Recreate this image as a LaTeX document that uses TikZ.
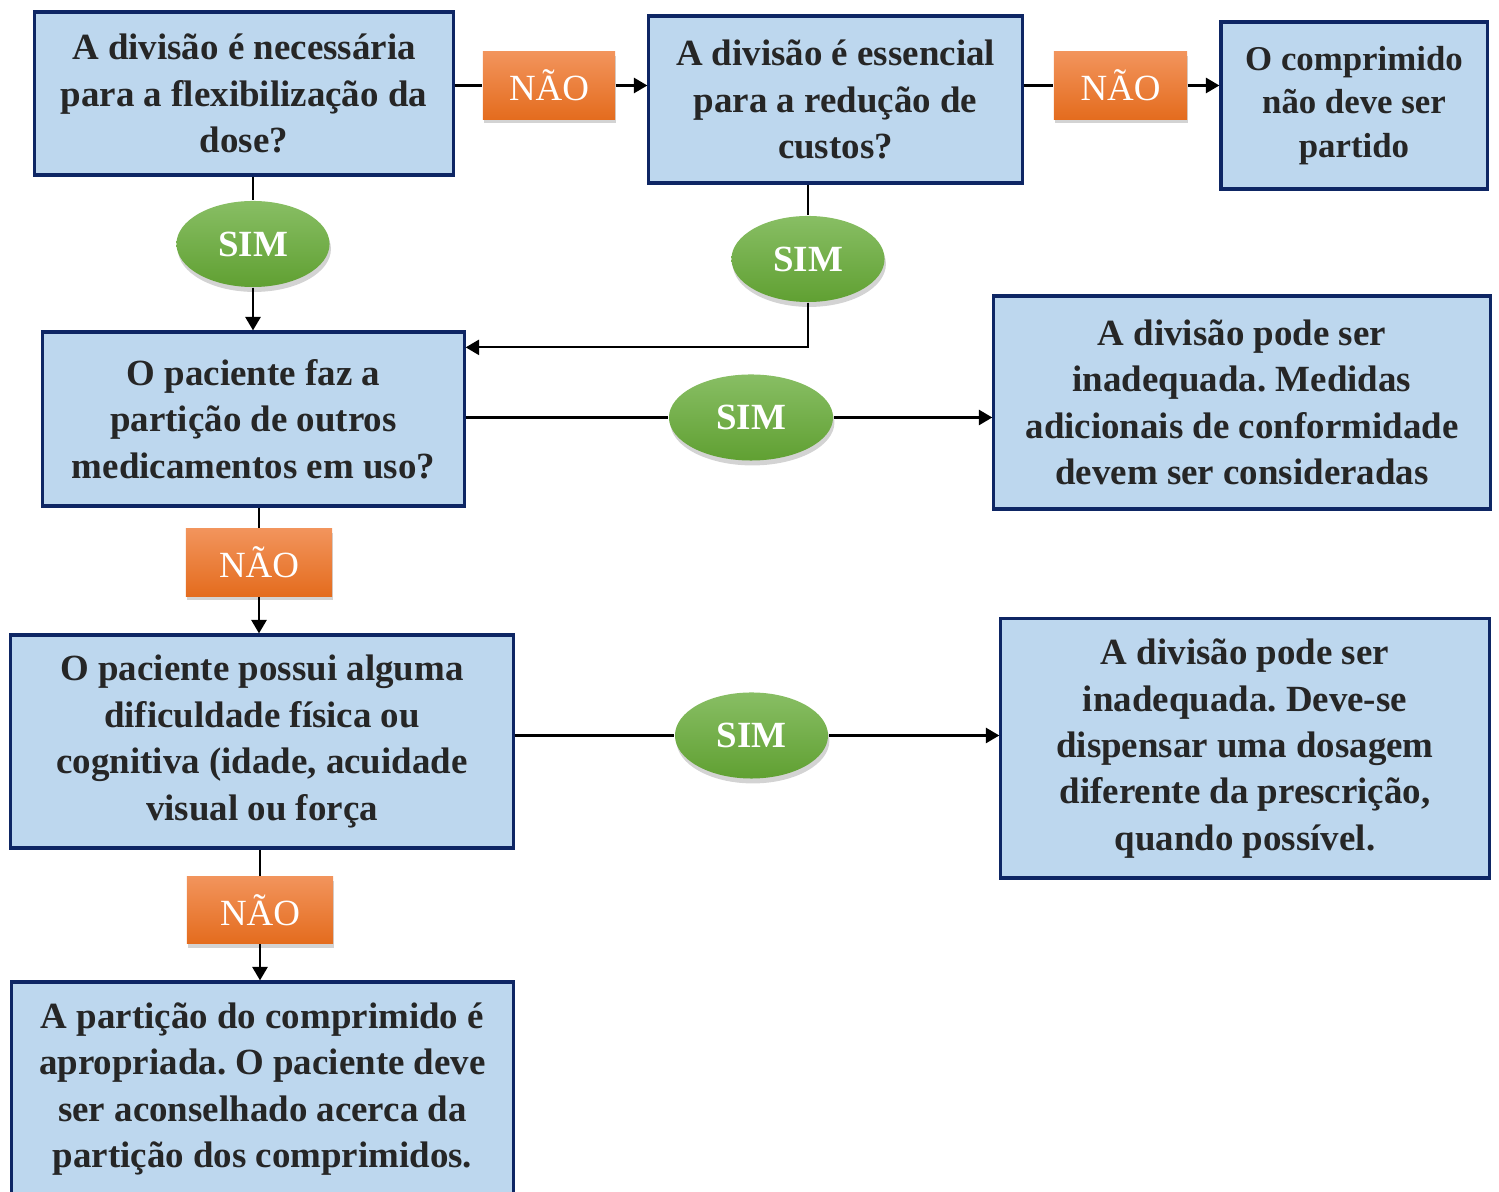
\documentclass[tikz,border=0pt]{standalone}
\usepackage{fontspec}
\setmainfont{Liberation Serif}
\usepackage{xcolor}
\usetikzlibrary{arrows.meta,shapes,shadows,calc}
\definecolor{caixa}{RGB}{189,215,238}
\definecolor{borda}{RGB}{14,38,100}
\definecolor{naotopo}{RGB}{242,148,92}
\definecolor{naobase}{RGB}{228,108,30}
\definecolor{simtopo}{RGB}{136,190,100}
\definecolor{simbase}{RGB}{96,160,50}
\definecolor{texto}{RGB}{38,38,38}
\newcommand{\fonte}{\fontsize{10.5}{13.2}\selectfont}
\frenchspacing

\begin{document}
\begin{tikzpicture}[x=0.01cm,y=-0.01cm,
	pergunta/.style={draw=borda,line width=0.9pt,fill=caixa,align=center,text=texto,font=\bfseries\fonte,inner sep=0pt},
	nao/.style={rectangle,top color=naotopo,bottom color=naobase,text=white,font=\fonte,inner sep=0pt,
		minimum height=0.67cm,drop shadow={shadow xshift=0.4pt,shadow yshift=-1.2pt,opacity=0.35}},
	sim/.style={ellipse,top color=simtopo,bottom color=simbase,text=white,font=\bfseries\fonte,inner sep=0pt,
		minimum width=1.53cm,minimum height=0.86cm,drop shadow={shadow xshift=0.4pt,shadow yshift=-1.4pt,opacity=0.35}},
	linha/.style={line width=0.6pt},
	seta/.style={linha,-{Triangle[length=3.8pt,width=4.3pt]}}]
	\useasboundingbox (0,0) rectangle (1499,1192);
	% caixas
	\node[pergunta,minimum width=4.18cm,minimum height=1.63cm] (flex) at (244,93.5) {A divisão é necessária\\para a flexibilização da\\dose?};
	\node[pergunta,minimum width=3.73cm,minimum height=1.67cm] (custo) at (835.5,99.5) {A divisão é essencial\\para a redução de\\custos?};
	\node[pergunta,minimum width=2.66cm,minimum height=1.67cm,font=\bfseries\fontsize{9.9}{12.3}\selectfont] (naopartir) at (1354,105.5) {O comprimido\\não deve ser\\partido};
	\node[pergunta,minimum width=4.21cm,minimum height=1.74cm] (outros) at (253.5,419) {O paciente faz a\\partição de outros\\medicamentos em uso?};
	\node[pergunta,minimum width=4.96cm,minimum height=2.13cm] (conform) at (1242,402.5) {A divisão pode ser\\inadequada. Medidas\\adicionais de conformidade\\devem ser consideradas};
	\node[pergunta,minimum width=5.02cm,minimum height=2.13cm] (dific) at (262,741.5) {O paciente possui alguma\\dificuldade física ou\\cognitiva (idade, acuidade\\visual ou força};
	\node[pergunta,minimum width=4.88cm,minimum height=2.59cm] (dosagem) at (1245,748.5) {A divisão pode ser\\inadequada. Deve-se\\dispensar uma dosagem\\diferente da prescrição,\\quando possível.};
	\node[pergunta,minimum width=5.01cm,minimum height=2.14cm] (apropr) at (262.5,1089) {A partição do comprimido é\\apropriada. O paciente deve\\ser aconselhado acerca da\\partição dos comprimidos.};
	% respostas
	\node[nao,minimum width=1.32cm] (naoA) at (549,85.5) {NÃO};
	\node[nao,minimum width=1.33cm] (naoB) at (1120.5,85.5) {NÃO};
	\node[nao,minimum width=1.46cm] (naoC) at (259,562.5) {NÃO};
	\node[nao,minimum width=1.46cm] (naoD) at (260,910) {NÃO};
	\node[sim] (simA) at (253,244) {SIM};
	\node[sim] (simB) at (808,259) {SIM};
	\node[sim,minimum width=1.64cm] (simC) at (751,417.5) {SIM};
	\node[sim] (simD) at (751.5,735.5) {SIM};
	% ligacoes
	\draw[linha] (naoA.west -| flex.east) -- (naoA.west);
	\draw[seta] (naoA.east) -- (naoA.east -| custo.west);
	\draw[linha] (naoB.west -| custo.east) -- (naoB.west);
	\draw[seta] (naoB.east) -- (naoB.east -| naopartir.west);
	\draw[linha] (simA.north |- flex.south) -- (simA.north);
	\draw[seta] (simA.south) -- (simA.south |- outros.north);
	\draw[linha] (simB.north |- custo.south) -- (simB.north);
	\draw[seta] (simB.south) |- ([yshift=-0.17cm]outros.north east);
	\draw[linha] (simC.west -| outros.east) -- (simC.west);
	\draw[seta] (simC.east) -- (simC.east -| conform.west);
	\draw[linha] (naoC.north |- outros.south) -- (naoC.north);
	\draw[seta] (naoC.south) -- (naoC.south |- dific.north);
	\draw[linha] (simD.west -| dific.east) -- (simD.west);
	\draw[seta] (simD.east) -- (simD.east -| dosagem.west);
	\draw[linha] (naoD.north |- dific.south) -- (naoD.north);
	\draw[seta] (naoD.south) -- (naoD.south |- apropr.north);
\end{tikzpicture}
\end{document}
